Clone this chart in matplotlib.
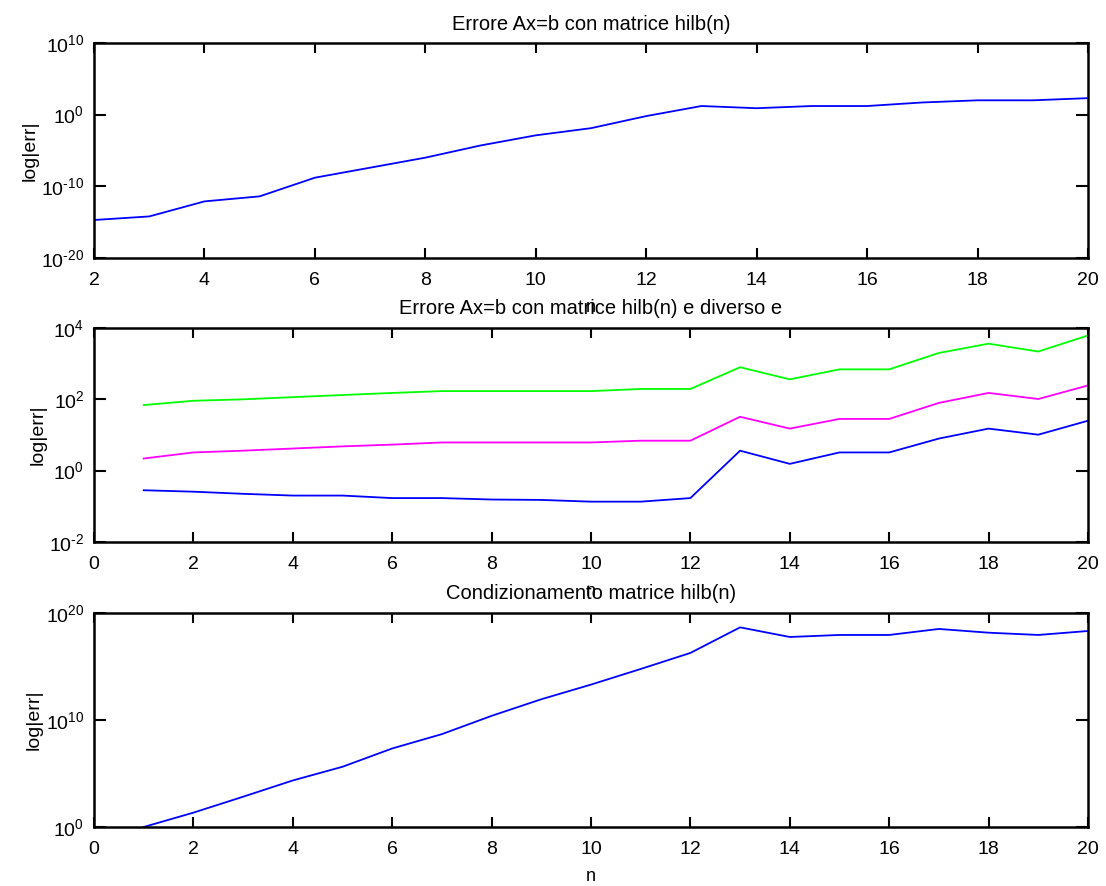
import numpy as np
import matplotlib
matplotlib.use("Agg")
import matplotlib.pyplot as plt
from matplotlib.ticker import FixedLocator, NullLocator, FuncFormatter

plt.rcParams["font.family"] = ["Liberation Sans", "DejaVu Sans"]
plt.rcParams["mathtext.fontset"] = "custom"
plt.rcParams["mathtext.rm"] = "Liberation Sans"
plt.rcParams["mathtext.it"] = "Liberation Sans:italic"
plt.rcParams["mathtext.default"] = "regular"
plt.rcParams["axes.unicode_minus"] = False

# Panel 1: error with hilb(n), n = 2..20
n_top = list(range(2, 21))
err_top = [2.0e-15, 6.3e-15, 7.9e-13, 4.0e-12, 1.6e-9, 4.0e-8, 1.0e-6, 5.0e-5,
           1.3e-3, 1.3e-2, 0.63, 16, 7.9, 16, 16, 50, 100, 100, 200]

# Panel 2: error with hilb(n) and different perturbations, n = 1..20
n_mid = list(range(1, 21))
err_green = [69, 91, 100, 115, 132, 151, 170, 170, 170, 170, 195, 195,
             794, 363, 692, 692, 1995, 3631, 2188, 6166]
err_magenta = [2.19, 3.24, 3.63, 4.17, 4.79, 5.37, 6.17, 6.17, 6.17, 6.17,
               6.92, 6.92, 32.4, 15.1, 28.2, 28.2, 79.4, 151, 102, 245]
err_blue = [0.282, 0.257, 0.224, 0.200, 0.200, 0.170, 0.170, 0.155, 0.151,
            0.135, 0.135, 0.170, 3.63, 1.55, 3.24, 3.24, 7.94, 15.1, 10.2, 25.1]

# Panel 3: condition number of hilb(n), n = 1..20
n_bot = list(range(1, 21))
cond_bot = [1, 21.9, 676, 2.24e4, 4.27e5, 2.19e7, 4.79e8, 2.45e10, 8.71e11,
            2.04e13, 5.89e14, 1.86e16, 4.57e18, 5.75e17, 8.91e17, 8.91e17,
            3.24e18, 1.45e18, 8.91e17, 2.09e18]

titles = ["Errore Ax=b con matrice hilb(n)",
          "Errore Ax=b con matrice hilb(n) e diverso e",
          "Condizionamento matrice hilb(n)"]


def pow10_label(v, pos):
    # MATLAB style: plain hyphen in the exponent
    e = int(round(np.log10(v)))
    if e < 0:
        return r"$10^{\text{-}%d}$" % (-e)
    return r"$10^{%d}$" % e


fig = plt.figure(figsize=(11.06, 8.86), dpi=100)
ax1 = fig.add_axes([0.085, 0.7088, 0.8987, 0.2427])
ax2 = fig.add_axes([0.085, 0.3883, 0.8987, 0.2415])
ax3 = fig.add_axes([0.085, 0.0666, 0.8987, 0.2415])

ax1.semilogy(n_top, err_top, color="blue", lw=1.3)
ax2.semilogy(n_mid, err_blue, color="blue", lw=1.3)
ax2.semilogy(n_mid, err_magenta, color="magenta", lw=1.3)
ax2.semilogy(n_mid, err_green, color="#00ff00", lw=1.3)
ax3.semilogy(n_bot, cond_bot, color="blue", lw=1.3)

ax1.set_xlim(2, 20)
ax1.set_ylim(1e-20, 1e10)
ax1.yaxis.set_major_locator(FixedLocator([1e-20, 1e-10, 1e0, 1e10]))
ax1.set_xticks(range(2, 21, 2))

ax2.set_xlim(0, 20)
ax2.set_ylim(1e-2, 1e4)
ax2.yaxis.set_major_locator(FixedLocator([1e-2, 1e0, 1e2, 1e4]))
ax2.set_xticks(range(0, 21, 2))

ax3.set_xlim(0, 20)
ax3.set_ylim(1e0, 1e20)
ax3.yaxis.set_major_locator(FixedLocator([1e0, 1e10, 1e20]))
ax3.set_xticks(range(0, 21, 2))

for ax, t, tp in zip([ax1, ax2, ax3], titles, [9, 10, 10]):
    ax.yaxis.set_minor_locator(NullLocator())
    ax.yaxis.set_major_formatter(FuncFormatter(pow10_label))
    ax.set_title(t, fontsize=14.5, pad=tp)
    ax.set_xlabel("n", fontsize=13, labelpad=7)
    ax.set_ylabel("log|err|", fontsize=14, labelpad=2)
    ax.tick_params(axis="both", which="major", direction="in", top=True,
                   right=True, labelsize=14, width=1.5)
    ax.tick_params(axis="x", length=7, pad=10)
    ax.tick_params(axis="y", length=8.5, pad=7)
    for s in ax.spines.values():
        s.set_linewidth(1.8)

fig.savefig("out.png", dpi=100)
